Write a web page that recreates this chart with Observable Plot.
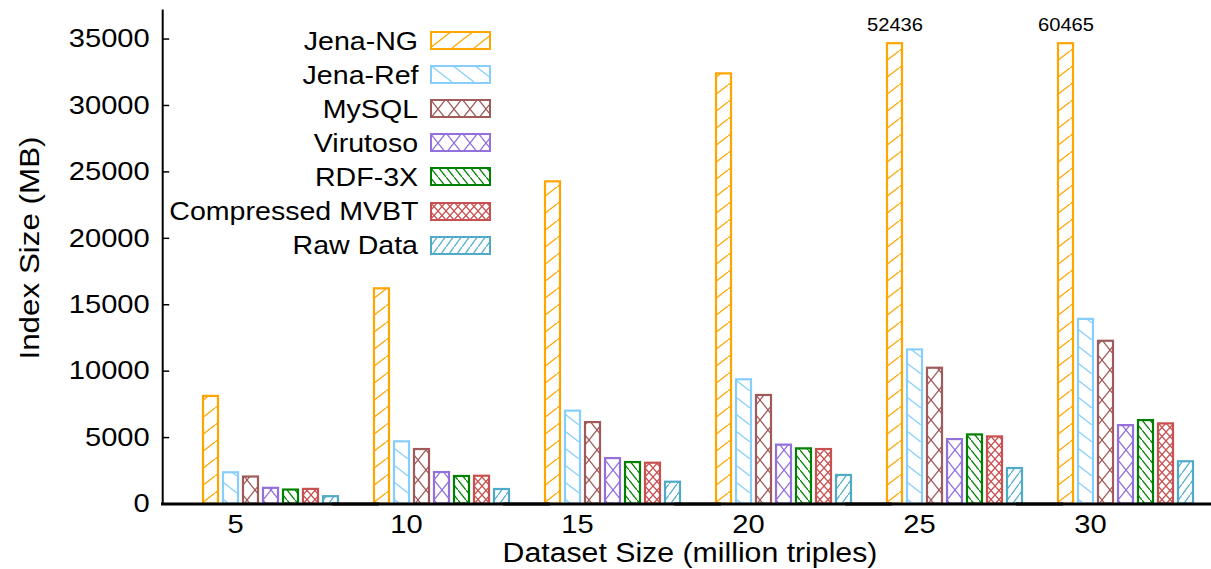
<!DOCTYPE html>
<html>
<head>
<meta charset="utf-8">
<script src="https://cdn.jsdelivr.net/npm/d3@7"></script>
<script src="https://cdn.jsdelivr.net/npm/@observablehq/plot@0.6"></script>
<style>
  html, body { margin: 0; padding: 0; background: #fff; }
  #wrap { position: relative; width: 1211px; height: 569px; overflow: hidden; font-family: "Liberation Sans", Arial, sans-serif; color: #000; }
  .ov { position: absolute; white-space: nowrap; line-height: 1; }
  .lg-label { position: absolute; right: 793px; font-size: 25.5px; line-height: 1; white-space: nowrap; transform-origin: right center; transform: scaleX(1.12); }
  .lg-swatch { position: absolute; left: 430px; }
</style>
</head>
<body>
<div id="wrap"></div>
<script>
// ---- data ----
const sizes = [5, 10, 15, 20, 25, 30];
const systems = ["Jena-NG", "Jena-Ref", "MySQL", "Virutoso", "RDF-3X", "Compressed MVBT", "Raw Data"];
const jenaNG   = [8100, 16200, 24250, 32380, 52436, 60465];
const jenaRef  = [2350, 4680, 6990, 9350, 11600, 13900];
const mysql    = [2030, 4100, 6130, 8170, 10220, 12250];
const virtuoso = [1180, 2370, 3420, 4430, 4850, 5900];
const rdf3x    = [1050, 2070, 3120, 4150, 5200, 6280];
const mvbt     = [1100, 2090, 3070, 4100, 5050, 6030];
const rawData  = [550, 1090, 1640, 2150, 2670, 3180];
const yTicks = [0, 5000, 10000, 15000, 20000, 25000, 30000, 35000];
const yMax = 37150;      // top of the y axis
const barCap = 34650;    // bars taller than this are cut off and labelled

const seriesValues = [jenaNG, jenaRef, mysql, virtuoso, rdf3x, mvbt, rawData];

// ---- styles ----
const colors = ["#FFA500", "#87CEFA", "#A05A5A", "#9370DB", "#008000", "#C85050", "#4FAAC8"];
// hatch: [direction, tile width, tile height]
const hatches = [["/", 22, 17], ["\\", 22, 17], ["x", 16, 20], ["x", 16, 20], ["\\", 8, 10], ["x", 8, 9], ["/", 8, 11]];
const patId = i => "hatch" + i;
const STRETCH = 1.12;
const svgNS = "http://www.w3.org/2000/svg";

const rows = [];
systems.forEach((s, i) => sizes.forEach((sz, j) => rows.push({system: s, size: sz, value: seriesValues[i][j]})));

function patternDef(i) {
  const [dir, w, h] = hatches[i];
  const c = colors[i];
  const back = `M${-w},${-h} L${2*w},${2*h}`;
  const fwd = `M${-w},${2*h} L${2*w},${-h}`;
  const d = dir === "/" ? fwd : dir === "\\" ? back : back + " " + fwd;
  return `<pattern id="${patId(i)}" patternUnits="userSpaceOnUse" width="${w}" height="${h}">
    <rect width="${w}" height="${h}" fill="white"/>
    <path d="${d}" stroke="${c}" stroke-width="1.3" fill="none"/>
  </pattern>`;
}

const bars = systems.map((s, i) => Plot.barY(rows.filter(r => r.system === s), {
  fx: "size", x: "system", y: r => Math.min(r.value, barCap),
  fill: `url(#${patId(i)})`, stroke: colors[i], strokeWidth: 2.2
}));

const chart = Plot.plot({
  width: 1211,
  height: 569,
  marginLeft: 158,
  marginRight: 0,
  marginTop: 10,
  marginBottom: 65.5,
  style: {fontFamily: '"Liberation Sans", Arial, sans-serif', fontSize: "26px", color: "black", background: "white", overflow: "visible"},
  fx: {domain: sizes, paddingInner: 0.1477, paddingOuter: 0.1349, align: 0.75, label: null},
  x: {domain: systems, paddingInner: 0.257, paddingOuter: 0.257, axis: null},
  y: {domain: [0, yMax]},
  marks: [
    ...bars,
    Plot.text(rows.filter(r => r.value > barCap), {
      fx: "size", x: "system", y: r => Math.min(r.value, barCap),
      text: r => String(r.value), dy: -18, fontSize: 18, fill: "black"
    }),
    Plot.ruleY([0], {stroke: "black", strokeWidth: 3, insetLeft: -36, insetRight: -36}),
    Plot.axisY(yTicks, {anchor: "left", tickSize: -7, tickPadding: 20, tickFormat: d3.format("d"),
      fontSize: 26, label: null, dx: -34.8, strokeWidth: 1.5}),
    Plot.axisFx({anchor: "bottom", tickSize: 0, tickPadding: 11, fontSize: 26, label: null, dx: -35}),
    Plot.frame({anchor: "left", facetAnchor: "left-empty", dx: -34.8, strokeWidth: 2, stroke: "black"})
  ]
});

const defs = document.createElementNS(svgNS, "defs");
defs.innerHTML = systems.map((s, i) => patternDef(i)).join("");
chart.insertBefore(defs, chart.firstChild);

const wrap = document.getElementById("wrap");
wrap.appendChild(chart);
chart.style.position = "absolute";
chart.style.left = "0px";
chart.style.top = "0px";

// widen the glyphs horizontally around each text's anchor, as in the reference rendering
function firstLen(list) {
  try {
    if (list && list.baseVal && list.baseVal.numberOfItems) return list.baseVal.getItem(0).value;
  } catch (e) {}
  return 0;
}
Array.from(chart.querySelectorAll("text")).forEach(t => {
  const xl = firstLen(t.x), yl = firstLen(t.y);
  let ax = xl, ay = yl;
  const tl = t.transform && t.transform.baseVal;
  if (tl && tl.numberOfItems) {
    const m = tl.consolidate().matrix;
    ax = m.a * xl + m.c * yl + m.e;
    ay = m.b * xl + m.d * yl + m.f;
  }
  const g = document.createElementNS(svgNS, "g");
  g.setAttribute("transform", `translate(${ax},${ay}) scale(${STRETCH},1) translate(${-ax},${-ay})`);
  t.parentNode.insertBefore(g, t);
  g.appendChild(t);
});

// legend (inside plot area, top-left)
systems.forEach((s, i) => {
  const cy = 41 + i * 34.1;
  const lab = document.createElement("div");
  lab.className = "lg-label";
  lab.style.top = (cy - 12.5) + "px";
  lab.textContent = s;
  wrap.appendChild(lab);
  const sw = document.createElementNS(svgNS, "svg");
  sw.setAttribute("class", "lg-swatch");
  sw.setAttribute("width", 62);
  sw.setAttribute("height", 20);
  sw.style.top = (cy - 10) + "px";
  sw.innerHTML = `<rect x="1" y="1" width="59" height="17" fill="url(#${patId(i)})" stroke="${colors[i]}" stroke-width="2"/>`;
  wrap.appendChild(sw);
});

// axis titles
const yTitle = document.createElement("div");
yTitle.className = "ov";
yTitle.textContent = "Index Size (MB)";
yTitle.style.cssText += `left:30px; top:248px; font-size:28px; transform: translate(-50%,-50%) rotate(-90deg) scaleX(${STRETCH});`;
wrap.appendChild(yTitle);

const xTitle = document.createElement("div");
xTitle.className = "ov";
xTitle.textContent = "Dataset Size (million triples)";
xTitle.style.cssText += `left:690px; top:540px; font-size:27px; transform: translateX(-50%) scaleX(${STRETCH});`;
wrap.appendChild(xTitle);
</script>
</body>
</html>
